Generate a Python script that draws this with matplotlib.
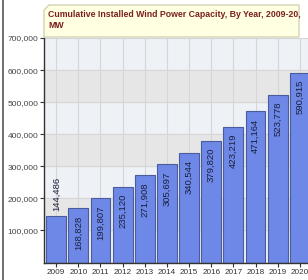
import numpy as np
import matplotlib.pyplot as plt
from matplotlib.patches import Polygon

# data
years = ['2009', '2010', '2011', '2012', '2013', '2014',
         '2015', '2016', '2017', '2018', '2019', '2020']
capacity = [144486, 168828, 199807, 235120, 271908, 305697,
            340544, 379820, 423219, 471164, 523778, 590915]
ytick_vals = [100000, 200000, 300000, 400000, 500000, 600000, 700000]

plt.rcParams['font.family'] = ['Liberation Sans', 'DejaVu Sans']

fig = plt.figure(figsize=(3.08, 2.80), dpi=100)
fig.patch.set_facecolor('white')

# plot area runs past the right edge like in the original screenshot
ax = fig.add_axes([44 / 308, 17.5 / 280, 268 / 308, 224.5 / 280])
ax.set_facecolor('#eef1f6')

x = np.arange(len(years))
ax.set_xlim(-0.55, len(years) - 0.45)
ax.set_ylim(0, 700000)

# alternating bands
for lo in range(100000, 700000, 200000):
    ax.axhspan(lo, lo + 100000, color='#e6e6e6', zorder=0)

ax.set_xticks(x)
ax.set_xticklabels(years)
ax.set_yticks(ytick_vals)
ax.set_yticklabels([f'{v:,}' for v in ytick_vals])
ax.grid(True, color='#d6d6d6', linewidth=0.8, zorder=1)
ax.set_axisbelow(True)

ax.bar(x, capacity, width=0.9, color='#6d88e6', edgecolor='#4b5c9c',
       linewidth=0.8, zorder=2)

for i, v in enumerate(capacity):
    lbl = f'{v:,}'
    if i == 0:
        ax.annotate(lbl, (x[i], v), xytext=(0, 4), textcoords='offset points',
                    rotation=90, ha='center', va='bottom', fontsize=6.8,
                    color='#1a1f3c', zorder=3)
    else:
        ax.annotate(lbl, (x[i], v), xytext=(0, -5), textcoords='offset points',
                    rotation=90, ha='center', va='top', fontsize=6.8,
                    color='#1a1f3c', zorder=3)

for s in ['top', 'right']:
    ax.spines[s].set_visible(False)
for s in ['left', 'bottom']:
    ax.spines[s].set_color('#333333')
    ax.spines[s].set_linewidth(1.0)
ax.tick_params(axis='y', length=3, color='#333333', labelsize=6, labelcolor='#444444', pad=1)
ax.tick_params(axis='x', length=3, color='#333333', labelsize=5.9, labelcolor='#333333', pad=2)

# title box with a clipped corner
bx0, bx1, by0, by1, c = 44, 299, 243, 275, 5
pts = [(bx0, by0), (bx1, by0), (bx1, by1), (bx0 + c, by1), (bx0, by1 - c)]
box = Polygon([(px / 308, py / 280) for px, py in pts], closed=True,
              facecolor='#ffffe1', edgecolor='#c9c9a6', linewidth=0.8,
              transform=fig.transFigure, zorder=5)
fig.patches.append(box)
fig.text(48 / 308, 270 / 280,
         'Cumulative Installed Wind Power Capacity, By Year, 2009-20,\nMW',
         ha='left', va='top', fontsize=6.3, fontweight='bold', color='#7a2020',
         linespacing=1.3, zorder=6)

# left frame line of the screenshot
fig.add_artist(plt.Line2D([3 / 308, 3 / 308], [0, 1], color='#555555', linewidth=1.2))

fig.savefig('out.png', dpi=100)
